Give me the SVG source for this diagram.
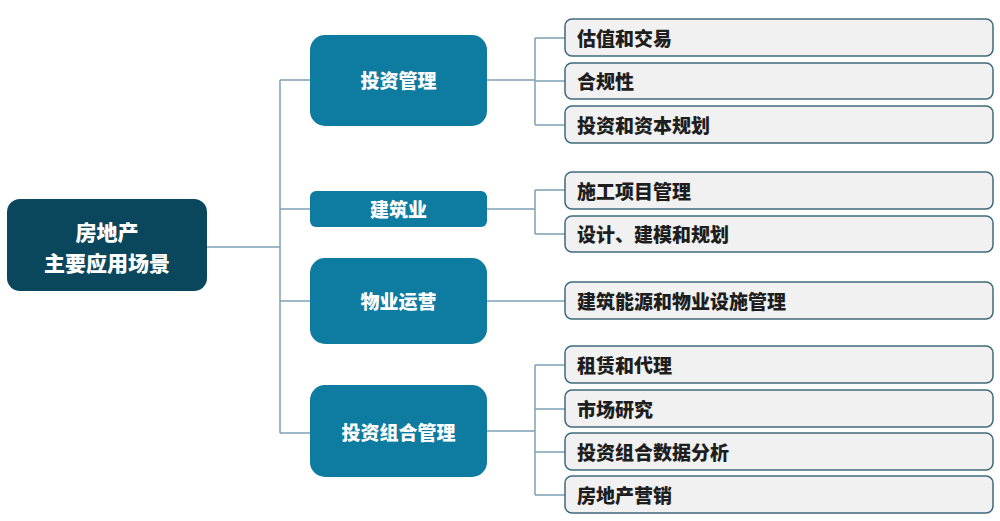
<svg xmlns="http://www.w3.org/2000/svg" width="1000" height="521" viewBox="0 0 1000 521">
<style>
text{font-family:"Noto Sans CJK SC","Noto Sans",sans-serif;font-weight:900;dominant-baseline:central}
.root rect{fill:#0B475C}
.mid rect{fill:#0E7BA0}
.root text,.mid text{fill:#ffffff;text-anchor:middle}
.root text{font-size:21px}
.mid text{font-size:19px}
.leaf rect{fill:#F1F1F1;stroke:#3F6A7C;stroke-width:1.5}
.leaf text{fill:#1E1E1E;font-size:19px}
#connectors path{fill:none;stroke:#7FA2B3;stroke-width:1.5}
</style>
<rect width="1000" height="521" fill="#ffffff"/>
<g id="connectors">
<path d="M207 247H280M280 80V433M280 80H310M280 209H310M280 301H310M280 433H310"/>
<path d="M487 80H535M535 38V125M535 38H565M535 81H565M535 125H565"/>
<path d="M487 209H535M535 190V234M535 190H565M535 234H565"/>
<path d="M487 301H565"/>
<path d="M487 431H535M535 365V495M535 365H565M535 409H565M535 452H565M535 495H565"/>
</g>
<g id="root" class="root">
<rect x="7" y="199" width="200" height="92" rx="13"/>
<text x="107" y="230.5">房地产</text>
<text x="107" y="261.5">主要应用场景</text>
</g>
<g id="mid1" class="mid"><rect x="310" y="35" width="177" height="91" rx="15"/><text x="398.5" y="79.5">投资管理</text></g>
<g id="mid2" class="mid"><rect x="310" y="191" width="177" height="36" rx="6"/><text x="398.5" y="208">建筑业</text></g>
<g id="mid3" class="mid"><rect x="310" y="258" width="177" height="86" rx="15"/><text x="398.5" y="300">物业运营</text></g>
<g id="mid4" class="mid"><rect x="310" y="385" width="177" height="92" rx="15"/><text x="398.5" y="431">投资组合管理</text></g>
<g id="leaf1" class="leaf"><rect x="565" y="19" width="428" height="37" rx="7"/><text x="577" y="37">估值和交易</text></g>
<g id="leaf2" class="leaf"><rect x="565" y="63" width="428" height="36" rx="7"/><text x="577" y="80">合规性</text></g>
<g id="leaf3" class="leaf"><rect x="565" y="106" width="428" height="37" rx="7"/><text x="577" y="124">投资和资本规划</text></g>
<g id="leaf4" class="leaf"><rect x="565" y="172" width="428" height="37" rx="7"/><text x="577" y="190">施工项目管理</text></g>
<g id="leaf5" class="leaf"><rect x="565" y="216" width="428" height="36" rx="7"/><text x="577" y="233">设计、建模和规划</text></g>
<g id="leaf6" class="leaf"><rect x="565" y="282" width="428" height="37" rx="7"/><text x="577" y="300">建筑能源和物业设施管理</text></g>
<g id="leaf7" class="leaf"><rect x="565" y="346" width="428" height="37" rx="7"/><text x="577" y="364">租赁和代理</text></g>
<g id="leaf8" class="leaf"><rect x="565" y="390" width="428" height="37" rx="7"/><text x="577" y="408">市场研究</text></g>
<g id="leaf9" class="leaf"><rect x="565" y="433" width="428" height="37" rx="7"/><text x="577" y="451">投资组合数据分析</text></g>
<g id="leaf10" class="leaf"><rect x="565" y="476" width="428" height="37" rx="7"/><text x="577" y="494">房地产营销</text></g>
</svg>
